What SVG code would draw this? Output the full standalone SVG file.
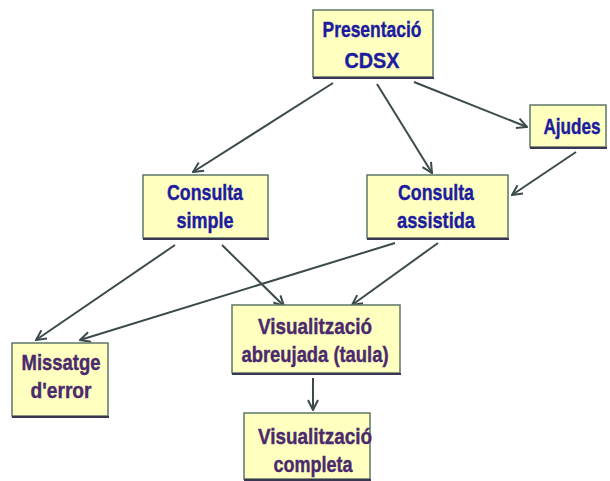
<svg xmlns="http://www.w3.org/2000/svg" width="610" height="481" viewBox="0 0 610 481">
<style>
.box{fill:#ffffc0;stroke:#5d7566;stroke-width:1.5}
.sh{fill:none;stroke:#3a3550;stroke-width:2}
.t{font-family:"Liberation Sans",Arial,sans-serif;font-weight:bold;font-size:22px;text-anchor:middle;stroke-width:0.4}
.b{fill:#1c1c9e;stroke:#1c1c9e}
.p{fill:#4a2a6c;stroke:#4a2a6c}
.c{fill:none;stroke:#3c4a4c;stroke-width:2;marker-end:url(#ah)}
</style>
<defs>
<marker id="ah" viewBox="0 0 12 12" refX="11" refY="6" markerWidth="12" markerHeight="12" markerUnits="userSpaceOnUse" orient="auto">
<path d="M1,1 L11,6 L1,11" fill="none" stroke="#3c4a4c" stroke-width="2"/>
</marker>
</defs>
<rect width="610" height="481" fill="#ffffff"/>
<g id="connectors">
<line class="c" x1="333" y1="83" x2="193" y2="172"/>
<line class="c" x1="377" y1="84" x2="432" y2="173"/>
<line class="c" x1="414" y1="82" x2="527" y2="127"/>
<line class="c" x1="576" y1="152" x2="512" y2="195"/>
<line class="c" x1="175" y1="245" x2="36" y2="340"/>
<line class="c" x1="222" y1="245" x2="284" y2="306"/>
<line class="c" x1="395" y1="243" x2="80" y2="340"/>
<line class="c" x1="438" y1="243" x2="352" y2="305"/>
<line class="c" x1="313" y1="378" x2="313" y2="410"/>
</g>
<g id="presentacio">
<rect class="box" x="313" y="10" width="120" height="67"/>
<line class="sh" x1="313" y1="78" x2="434" y2="78"/>
<text class="t b" x="372" y="37" textLength="99" lengthAdjust="spacingAndGlyphs">Presentació</text>
<text class="t b" x="372" y="68" font-size="28" textLength="55" lengthAdjust="spacingAndGlyphs">CDSX</text>
</g>
<g id="ajudes">
<rect class="box" x="530" y="105" width="76" height="42"/>
<line class="sh" x1="530" y1="148" x2="607" y2="148"/>
<text class="t b" transform="translate(572,134) scale(0.78,1)" x="0" y="0" font-size="21">Ajudes</text>
</g>
<g id="consulta-simple">
<rect class="box" x="143" y="175" width="125" height="63"/>
<line class="sh" x1="143" y1="239" x2="269" y2="239"/>
<text class="t b" x="205" y="200" textLength="76" lengthAdjust="spacingAndGlyphs">Consulta</text>
<text class="t b" x="205" y="228" textLength="57" lengthAdjust="spacingAndGlyphs">simple</text>
</g>
<g id="consulta-assistida">
<rect class="box" x="367" y="175" width="141" height="63"/>
<line class="sh" x1="367" y1="239" x2="509" y2="239"/>
<text class="t b" x="436" y="200" textLength="76" lengthAdjust="spacingAndGlyphs">Consulta</text>
<text class="t b" x="436" y="228" textLength="78" lengthAdjust="spacingAndGlyphs">assistida</text>
</g>
<g id="missatge-error">
<rect class="box" x="12" y="343" width="96" height="73"/>
<line class="sh" x1="12" y1="417" x2="109" y2="417"/>
<text class="t p" x="61" y="370" textLength="79" lengthAdjust="spacingAndGlyphs">Missatge</text>
<text class="t p" x="61" y="398" textLength="61" lengthAdjust="spacingAndGlyphs">d'error</text>
</g>
<g id="visualitzacio-abreujada">
<rect class="box" x="232" y="305" width="168" height="68"/>
<line class="sh" x1="232" y1="374" x2="401" y2="374"/>
<text class="t p" x="315" y="334" textLength="114" lengthAdjust="spacingAndGlyphs">Visualització</text>
<text class="t p" x="315" y="362" textLength="147" lengthAdjust="spacingAndGlyphs">abreujada (taula)</text>
</g>
<g id="visualitzacio-completa">
<rect class="box" x="244" y="413" width="126" height="66"/>
<line class="sh" x1="244" y1="480" x2="371" y2="480"/>
<text class="t p" x="315" y="444" textLength="114" lengthAdjust="spacingAndGlyphs">Visualització</text>
<text class="t p" x="313" y="472" textLength="79" lengthAdjust="spacingAndGlyphs">completa</text>
</g>
</svg>
